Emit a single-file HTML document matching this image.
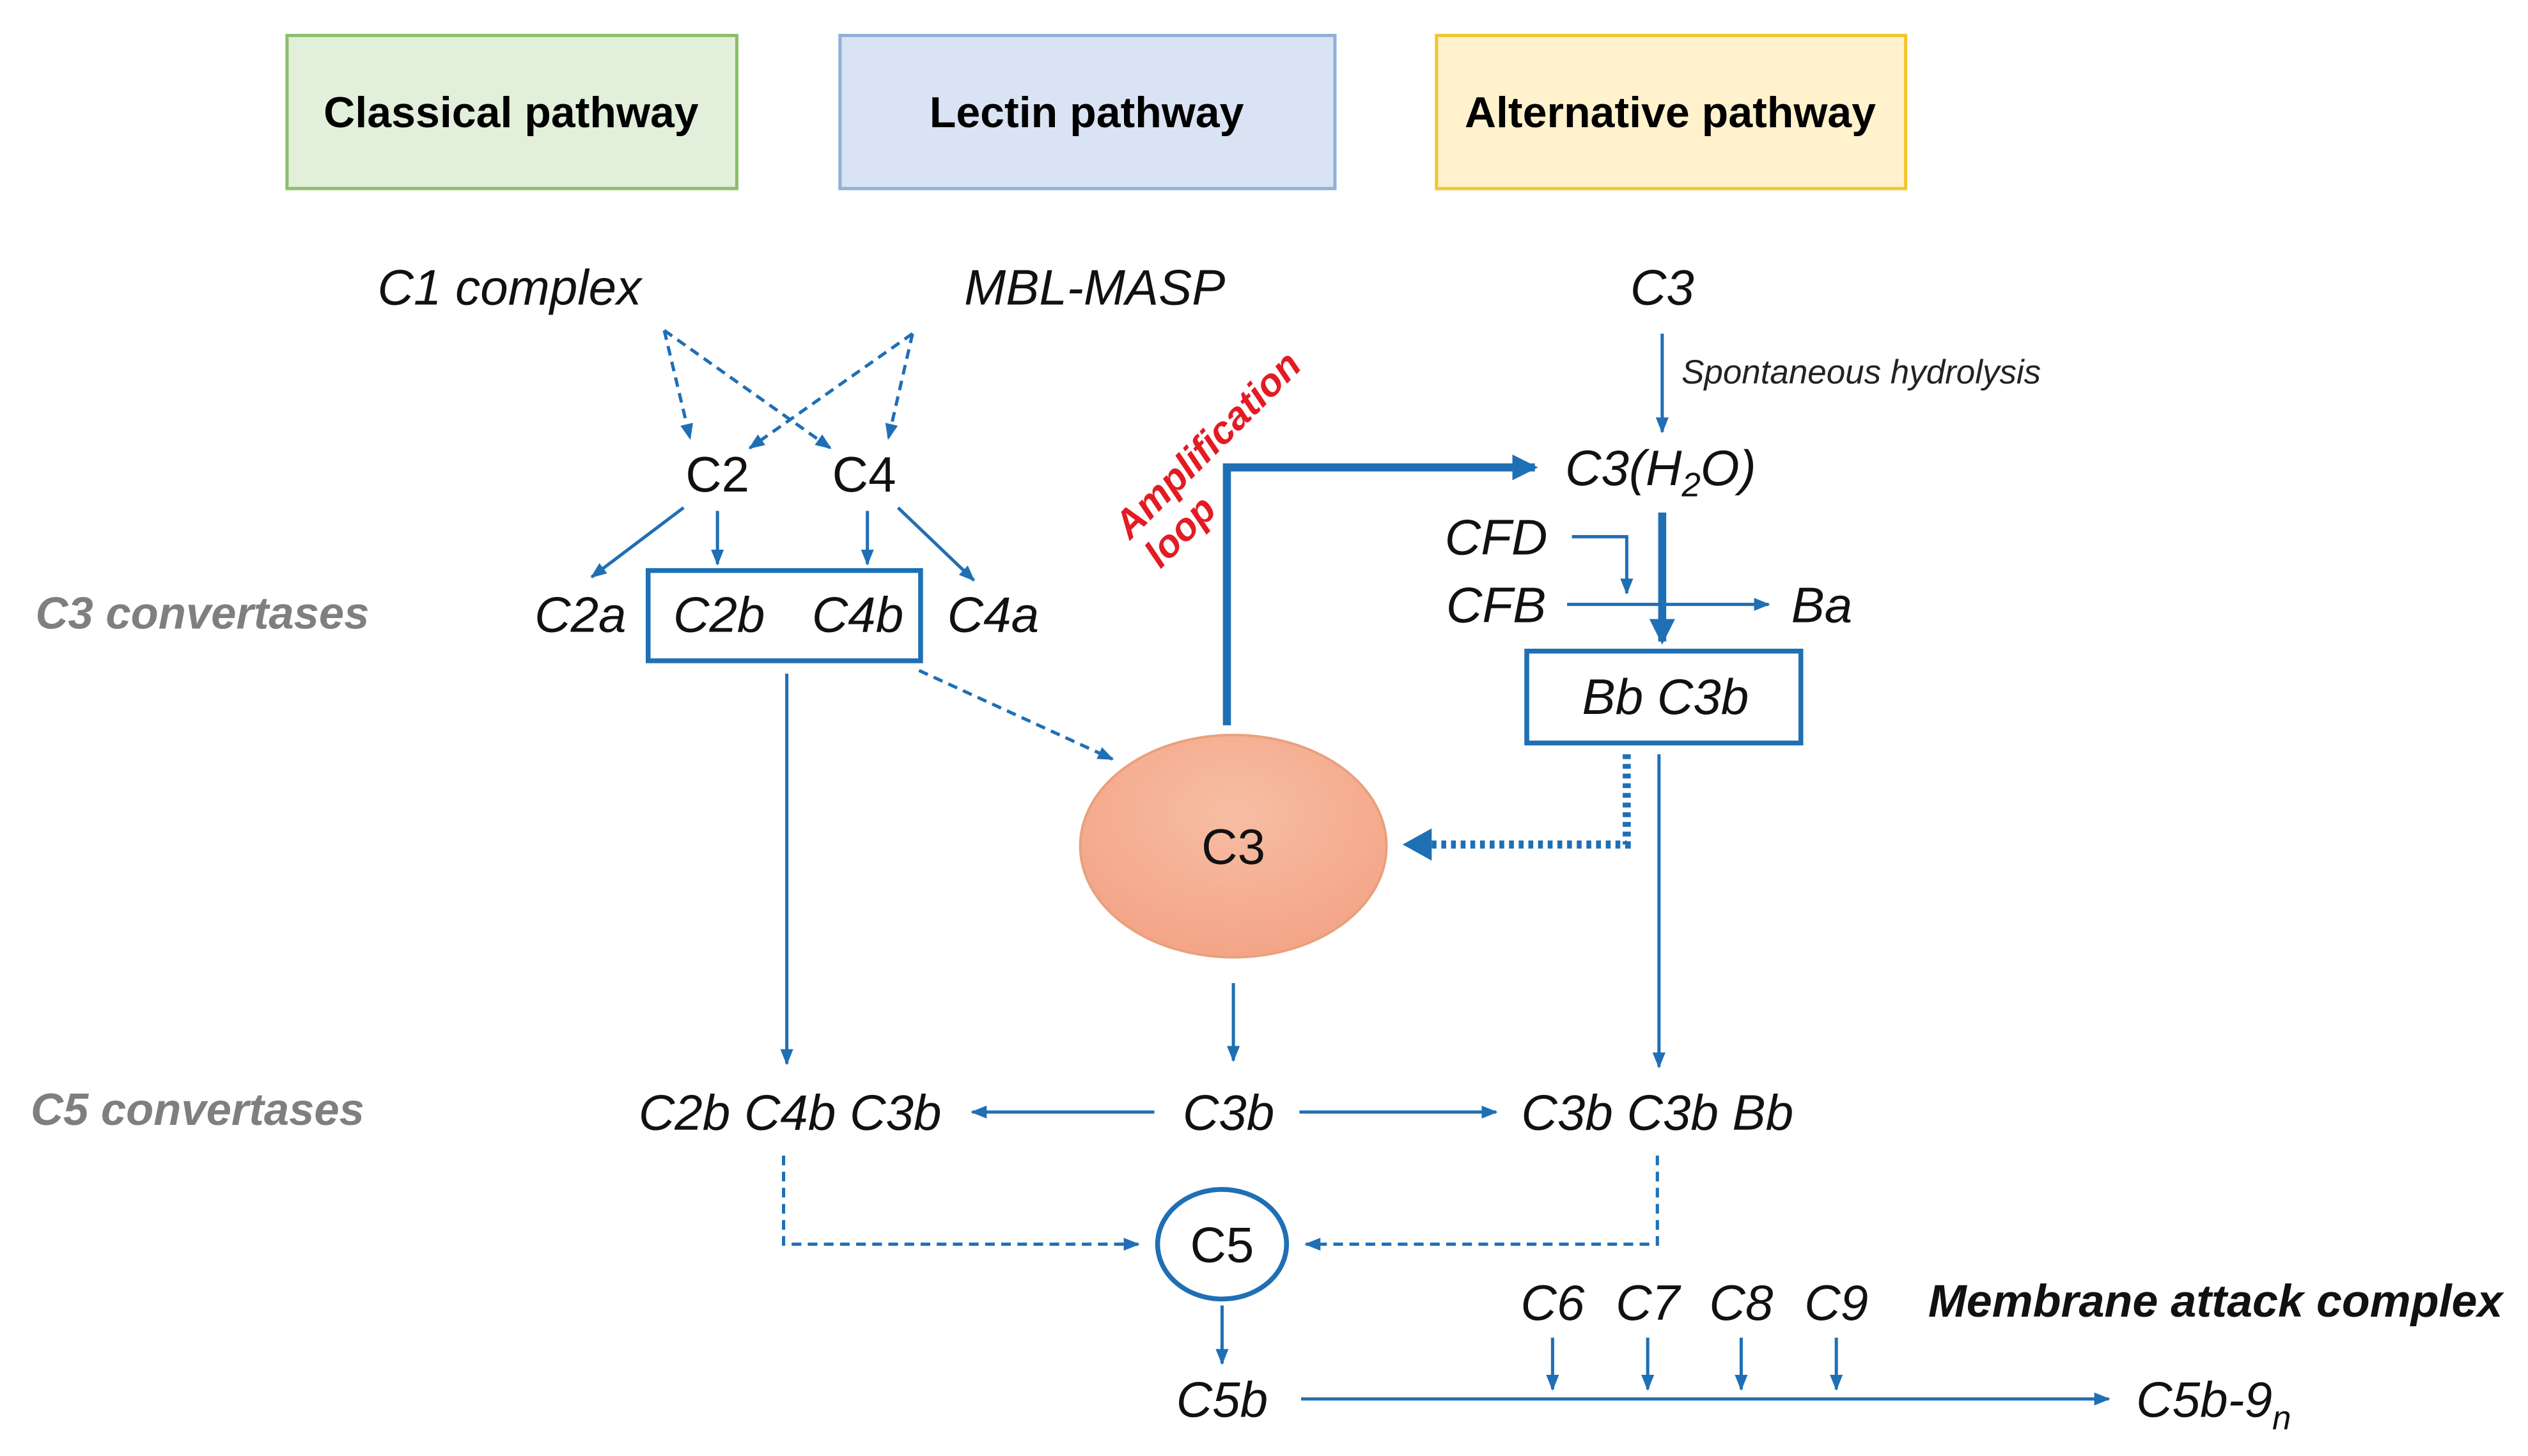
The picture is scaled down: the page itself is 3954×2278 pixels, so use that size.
<!DOCTYPE html>
<html><head><meta charset="utf-8"><style>
html,body{margin:0;padding:0;background:#fff;}
svg{display:block}
text{font-family:"Liberation Sans",Arial,sans-serif;}
</style></head><body>
<svg width="3954" height="2278" viewBox="0 0 1568 903.4" xmlns="http://www.w3.org/2000/svg">
<defs>
<marker id="a" markerWidth="10" markerHeight="10" refX="9" refY="5" orient="auto" markerUnits="userSpaceOnUse"><path d="M0,1 L10,5 L0,9 Z" fill="#1f6fb5"/></marker>
<marker id="ab" markerWidth="18" markerHeight="18" refX="14" refY="9" orient="auto" markerUnits="userSpaceOnUse"><path d="M0,1 L16,9 L0,17 Z" fill="#1f6fb5"/></marker>
<radialGradient id="g" cx="0.5" cy="0.35" r="0.7"><stop offset="0" stop-color="#f6bea3"/><stop offset="1" stop-color="#f4a285"/></radialGradient>
</defs>
<g font-weight="bold" font-size="27" text-anchor="middle">
<rect x="178" y="22" width="279" height="95" fill="#e2efda" stroke="#8cbf6a" stroke-width="2"/>
<text x="317" y="79">Classical pathway</text>
<rect x="521" y="22" width="307" height="95" fill="#dae3f3" stroke="#8fb0d8" stroke-width="2"/>
<text x="674" y="79">Lectin pathway</text>
<rect x="891" y="22" width="291" height="95" fill="#fff2cc" stroke="#f2c530" stroke-width="2"/>
<text x="1036" y="79">Alternative pathway</text>
</g>
<g font-style="italic" font-size="31" text-anchor="middle" fill="#111">
<text x="316" y="189">C1 complex</text>
<text x="679" y="189">MBL-MASP</text>
<text x="1031" y="189">C3</text>
<text x="1030" y="301">C3(H<tspan font-size="21" dy="7">2</tspan><tspan dy="-7">O)</tspan></text>
<text x="928" y="344">CFD</text>
<text x="928" y="386">CFB</text>
<text x="1130" y="386">Ba</text>
<text x="1033" y="443">Bb C3b</text>
<text x="360" y="392">C2a</text>
<text x="446" y="392">C2b</text>
<text x="532" y="392">C4b</text>
<text x="616" y="392">C4a</text>
<text x="490" y="701">C2b C4b C3b</text>
<text x="762" y="701">C3b</text>
<text x="1028" y="701">C3b C3b Bb</text>
<text x="963" y="819">C6</text>
<text x="1022" y="819">C7</text>
<text x="1080" y="819">C8</text>
<text x="1139" y="819">C9</text>
<text x="758" y="879">C5b</text>
<text x="1325" y="879" text-anchor="start">C5b-9<tspan font-size="21" dy="8">n</tspan></text>
</g>
<g font-size="31" text-anchor="middle" fill="#111">
<text x="445" y="305">C2</text>
<text x="536" y="305">C4</text>
</g>
<text x="1043" y="238" font-style="italic" font-size="21" fill="#222">Spontaneous hydrolysis</text>
<g font-style="italic" font-weight="bold" font-size="28" fill="#7f7f7f">
<text x="22" y="390">C3 convertases</text>
<text x="19" y="698">C5 convertases</text>
</g>
<text x="1196" y="817" font-style="italic" font-weight="bold" font-size="28.5" fill="#111">Membrane attack complex</text>
<g transform="translate(749,276) rotate(-45)" font-style="italic" font-weight="bold" font-size="24" fill="#e31b23" text-anchor="middle">
<text x="0" y="8">Amplification</text>
<text x="-50" y="34">loop</text>
</g>
<g stroke="#1f6fb5" fill="none">
<g stroke-width="2" stroke-dasharray="6,4" marker-end="url(#a)">
<line x1="412" y1="205" x2="428" y2="272"/>
<line x1="412" y1="205" x2="515" y2="278"/>
<line x1="566" y1="207" x2="465" y2="278"/>
<line x1="566" y1="207" x2="551" y2="272"/>
<line x1="570" y1="416" x2="690" y2="471"/>
<polyline points="486,717 486,772 706,772"/>
<polyline points="1028,717 1028,772 810,772"/>
</g>
<g stroke-width="2" marker-end="url(#a)">
<line x1="424" y1="315" x2="367" y2="358"/>
<line x1="445" y1="317" x2="445" y2="350"/>
<line x1="538" y1="317" x2="538" y2="350"/>
<line x1="557" y1="315" x2="604" y2="360"/>
<line x1="1031" y1="207" x2="1031" y2="268"/>
<polyline points="975,333 1009,333 1009,368"/>
<line x1="972" y1="375" x2="1097" y2="375"/>
<line x1="1029" y1="468" x2="1029" y2="662"/>
<line x1="488" y1="418" x2="488" y2="660"/>
<line x1="765" y1="610" x2="765" y2="658"/>
<line x1="716" y1="690" x2="603" y2="690"/>
<line x1="806" y1="690" x2="928" y2="690"/>
<line x1="758" y1="810" x2="758" y2="846"/>
<line x1="807" y1="868" x2="1308" y2="868"/>
<line x1="963" y1="830" x2="963" y2="862"/>
<line x1="1022" y1="830" x2="1022" y2="862"/>
<line x1="1080" y1="830" x2="1080" y2="862"/>
<line x1="1139" y1="830" x2="1139" y2="862"/>
</g>
<polyline points="761,450 761,290 952,290" stroke-width="5" marker-end="url(#ab)"/>
<line x1="1031" y1="318" x2="1031" y2="398" stroke-width="5" marker-end="url(#ab)"/>
<polyline points="1009,468 1009,524 884,524" stroke-width="5" stroke-dasharray="3,3"/>
<path d="M870,524 L888,514 L888,534 Z" fill="#1f6fb5" stroke="none"/>
<rect x="402" y="354" width="169" height="56" stroke-width="3"/>
<rect x="947" y="404" width="170" height="57" stroke-width="3"/>
<ellipse cx="758" cy="772" rx="40" ry="34" stroke-width="3"/>
</g>
<ellipse cx="765" cy="525" rx="95" ry="69" fill="url(#g)" stroke="#e8a07c" stroke-width="1.5"/>
<text x="765" y="536" font-size="31" text-anchor="middle" fill="#111">C3</text>
<text x="758" y="783" font-size="31" text-anchor="middle" fill="#111">C5</text>
</svg>
</body></html>
